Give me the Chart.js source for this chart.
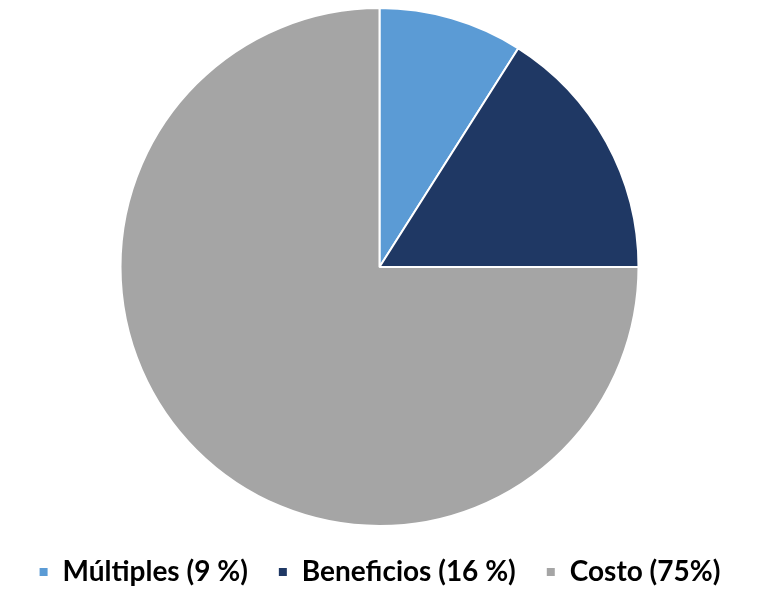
<!DOCTYPE html>
<html>
<head>
<meta charset="utf-8">
<script src="https://cdn.jsdelivr.net/npm/chart.js@4/dist/chart.umd.min.js"></script>
<style>
  html, body { margin: 0; padding: 0; background: #ffffff; }
  #wrap { width: 759px; height: 592px; position: relative; }
</style>
</head>
<body>
<div id="wrap"><canvas id="pie"></canvas></div>
<script>
// ─── Data ─────────────────────────────────────────────
const LABELS = ['Múltiples (9 %)', 'Beneficios (16 %)', 'Costo (75%)'];
const VALUES = [9, 16, 75];
const COLORS = ['#5B9BD5', '#1F3864', '#A5A5A5'];

new Chart(document.getElementById('pie'), {
  type: 'pie',
  data: {
    labels: LABELS,
    datasets: [{
      data: VALUES,
      backgroundColor: COLORS,
      borderColor: '#ffffff',
      borderWidth: 2,
    }]
  },
  options: {
    responsive: true,
    maintainAspectRatio: false,
    animation: false,
    radius: 259,
    layout: { padding: { top: 6, bottom: -4, left: 0, right: 0 } },
    plugins: {
      tooltip: { enabled: false },
      legend: {
        display: true,
        position: 'bottom',
        labels: {
          color: '#000000',
          boxWidth: 10,
          boxHeight: 10,
          padding: 30,
          font: { family: 'Lato', weight: 'bold', size: 28, lineHeight: 1.0 }
        }
      }
    }
  }
});
</script>
</body>
</html>
